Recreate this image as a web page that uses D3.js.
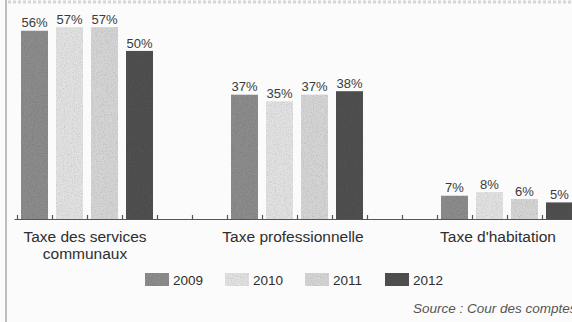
<!DOCTYPE html>
<html>
<head>
<meta charset="utf-8">
<script src="https://cdn.jsdelivr.net/npm/d3@7"></script>
<style>
  body { margin: 0; background: #fafafa; }
  svg { display: block; }
</style>
</head>
<body>
<svg id="chart"></svg>
<script>
// data
let categories = ["Taxe des services communaux", "Taxe professionnelle", "Taxe d'habitation"];
let years = ["2009", "2010", "2011", "2012"];
let v2009 = [56, 37, 7];
let v2010 = [57, 35, 8];
let v2011 = [57, 37, 6];
let v2012 = [50, 38, 5];
let source = "Source : Cour des comptes";

let series = [v2009, v2010, v2011, v2012];
let colors = ["#8c8c8c", "#e2e2e2", "#d5d5d5", "#505050"];

let width = 572, height = 322, baseY = 219;

let svg = d3.select("#chart")
    .attr("width", width)
    .attr("height", height);

//grain filter, the original is a scanned print
let defs = svg.append("defs");
let f = defs.append("filter").attr("id", "grain")
    .attr("x", 0).attr("y", 0).attr("width", 1).attr("height", 1);
f.append("feTurbulence").attr("type", "fractalNoise")
    .attr("baseFrequency", 0.9).attr("numOctaves", 2).attr("seed", 3).attr("result", "n");
f.append("feColorMatrix").attr("in", "n").attr("type", "matrix")
    .attr("values", "0.3 0.3 0.3 0 0.5  0.3 0.3 0.3 0 0.5  0.3 0.3 0.3 0 0.5  0 0 0 0 1")
    .attr("result", "g");
f.append("feBlend").attr("in", "SourceGraphic").attr("in2", "g").attr("mode", "multiply").attr("result", "b");
f.append("feComposite").attr("in", "b").attr("in2", "SourceGraphic").attr("operator", "in");

svg.append("rect").attr("width", width).attr("height", height).attr("fill", "#fbfbfb");

//left page border and top remnant
svg.append("line")
    .attr("x1", 6).attr("x2", 6).attr("y1", 0).attr("y2", height)
    .attr("stroke", "#a8a8a8").attr("stroke-width", 1.5);
svg.append("line")
    .attr("x1", 8).attr("x2", width).attr("y1", 2).attr("y2", 2)
    .attr("stroke", "#d6d6d6").attr("stroke-width", 3)
    .attr("stroke-dasharray", "3,2");

//scales
let x0 = d3.scaleBand().domain(categories).range([-42, 636])
    .paddingInner(78 / 210).paddingOuter(0.3);
let x1 = d3.scaleBand().domain(years).range([0, x0.bandwidth()])
    .paddingInner(8 / 35).paddingOuter(0);
let y = d3.scaleLinear().domain([0, 60]).range([baseY, 17]);
let color = d3.scaleOrdinal().domain(years).range(colors);

//bars
let rows = [];
categories.forEach((c, i) => {
    years.forEach((yr, j) => {
        rows.push({cat: c, year: yr, value: series[j][i]});
    });
});

svg.append("g").selectAll("rect")
    .data(rows)
    .join("rect")
    .attr("x", d => x0(d.cat) + x1(d.year))
    .attr("y", d => y(d.value))
    .attr("width", x1.bandwidth())
    .attr("height", d => y(0) - y(d.value))
    .attr("fill", d => color(d.year))
    .attr("filter", "url(#grain)");

//value labels
svg.append("g").selectAll("text")
    .data(rows)
    .join("text")
    .attr("x", d => x0(d.cat) + x1(d.year) + x1.bandwidth() / 2)
    .attr("y", d => y(d.value) - 3)
    .style("text-anchor", "middle")
    .style("font-family", "Liberation Sans, Arial, sans-serif")
    .style("font-size", "13px")
    .style("fill", "#3a3a3a")
    .text(d => d.value + "%");

//x axis with small upward ticks at every slot
let gap = x1.step() - x1.bandwidth();
let tickPos = [];
categories.forEach(c => {
    for (let k = 0; k < 6; k++) tickPos.push(x0(c) - gap / 2 + k * x1.step());
});
let axis = svg.append("g")
    .attr("transform", "translate(0," + baseY + ")")
    .call(d3.axisBottom(d3.scaleIdentity([14, width]))
        .tickValues(tickPos.filter(t => t >= 14 && t <= width))
        .tickFormat("")
        .tickSizeInner(-4)
        .tickSizeOuter(0));
axis.selectAll("path, line").attr("stroke", "#555").attr("stroke-width", 1.2);

//category labels (last one sits a little left in the print)
let labelShift = [-2, -4, -9];
let catText = svg.append("g").selectAll("text")
    .data(categories)
    .join("text")
    .attr("x", (d, i) => x0(d) + x0.bandwidth() / 2 + labelShift[i])
    .attr("y", 242)
    .style("text-anchor", "middle")
    .style("font-family", "Liberation Sans, Arial, sans-serif")
    .style("font-size", "15.5px")
    .style("fill", "#2e2e2e");
catText.each(function(d, i) {
    let t = d3.select(this);
    let cx = x0(d) + x0.bandwidth() / 2 + labelShift[i];
    if (d === "Taxe des services communaux") {
        t.append("tspan").attr("x", cx).text("Taxe des services");
        t.append("tspan").attr("x", cx).attr("dy", 17).text("communaux");
    } else {
        t.text(d);
    }
});

//legend
let lx = d3.scaleLinear().domain([0, years.length - 1]).range([145, 385]);
let leg = svg.append("g").selectAll("g")
    .data(years)
    .join("g")
    .attr("transform", (d, i) => "translate(" + lx(i) + ",273)");
leg.append("rect")
    .attr("width", 24).attr("height", 13)
    .attr("fill", d => color(d))
    .attr("filter", "url(#grain)");
leg.append("text")
    .attr("x", 28).attr("y", 12)
    .style("font-family", "Liberation Sans, Arial, sans-serif")
    .style("font-size", "13.5px")
    .style("fill", "#2e2e2e")
    .text(d => d);

//source (cut at the right edge, as in the scan)
svg.append("text")
    .attr("x", 413).attr("y", 313)
    .style("font-family", "Liberation Sans, Arial, sans-serif")
    .style("font-size", "13.5px")
    .style("font-style", "italic")
    .style("fill", "#555")
    .text(source);
</script>
</body>
</html>
